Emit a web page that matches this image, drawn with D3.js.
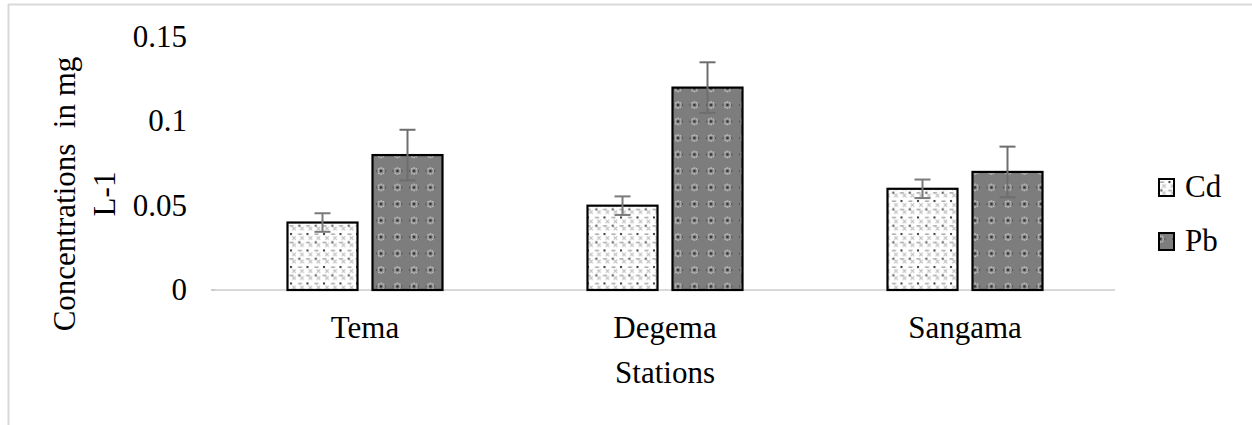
<!DOCTYPE html>
<html><head><meta charset="utf-8">
<script src="https://cdn.jsdelivr.net/npm/d3@7"></script>
<style>
html,body{margin:0;padding:0;background:#fff;}
svg{display:block;}
svg text{fill:#000;white-space:pre;}
</style></head>
<body>
<svg id="chart" width="1252" height="425"></svg>
<script>
const stations = ["Tema", "Degema", "Sangama"];
const seriesNames = ["Cd", "Pb"];
const cdValues = [0.04, 0.05, 0.06];
const pbValues = [0.08, 0.12, 0.07];
const cdErrors = [0.0055, 0.0055, 0.0055];
const pbErrors = [0.015, 0.015, 0.015];
const yTicks = [0, 0.05, 0.1, 0.15];
const yTickLabels = ["0", "0.05", "0.1", "0.15"];
const yTitleLines = ["Concentrations  in mg", "L-1"];
const xTitle = "Stations";

// pick an installed serif font
const cv = document.createElement("canvas").getContext("2d");
const probe = "Concentrations in mg Tema Degema 0.15";
function w(f){ cv.font = "30px " + f; return cv.measureText(probe).width; }
const wMono = w("monospace"), wSans = w("sans-serif");
const cands = ["Liberation Serif","Times New Roman","Tinos","Nimbus Roman","DejaVu Serif","Noto Serif","FreeSerif"];
let chosen = null;
for (const c of cands){ const ww = w(`"${c}", monospace`); if (Math.abs(ww-wMono)>0.5){ chosen=c; break; } }
const FONT = chosen ? `"${chosen}", serif` : "serif";

const svg = d3.select("#chart");
const defs = svg.append("defs");

const pc = defs.append("pattern").attr("id","patCd").attr("patternUnits","userSpaceOnUse")
  .attr("width",16.5).attr("height",16.5).attr("x",289).attr("y",0);
pc.append("rect").attr("width",16.5).attr("height",16.5).attr("fill","#fff");
pc.append("rect").attr("x",1).attr("y",2).attr("width",2).attr("height",2).attr("fill","#333");
pc.append("rect").attr("x",9).attr("y",2.5).attr("width",4).attr("height",1.3).attr("fill","#999");
pc.append("rect").attr("x",9.3).attr("y",10.3).attr("width",2).attr("height",2).attr("fill","#444");
pc.append("rect").attr("x",0.5).attr("y",10.8).attr("width",4).attr("height",1.3).attr("fill","#999");
[[5,7],[5,14],[13,7],[13,14]].forEach(p=>{
  pc.append("path").attr("d",`M${p[0]-1.8},${p[1]-1.8}l3.6,3.6M${p[0]+1.8},${p[1]-1.8}l-3.6,3.6`)
    .attr("stroke","#bbb").attr("stroke-width",1);
});

const pp = defs.append("pattern").attr("id","patPb").attr("patternUnits","userSpaceOnUse")
  .attr("width",16.5).attr("height",16.5).attr("x",375).attr("y",0);
pp.append("rect").attr("width",16.5).attr("height",16.5).attr("fill","#7d7d7d");
const cx=6, cy=6;
[[-3,0],[3,0],[0,-3],[0,3],[-2.2,-2.2],[2.2,2.2],[-2.2,2.2],[2.2,-2.2]].forEach(d=>{
  pp.append("rect").attr("x",cx+d[0]-0.7).attr("y",cy+d[1]-0.7).attr("width",1.4).attr("height",1.4).attr("fill","#ddd");
});
pp.append("rect").attr("x",cx-1).attr("y",cy-1).attr("width",2).attr("height",2).attr("fill","#222");
pp.append("rect").attr("x",cx-4.8).attr("y",cy-0.6).attr("width",1.2).attr("height",1.2).attr("fill","#222");
pp.append("rect").attr("x",cx+3.6).attr("y",cy-0.6).attr("width",1.2).attr("height",1.2).attr("fill","#222");

svg.append("line").attr("x1",8).attr("x2",1252).attr("y1",4.5).attr("y2",4.5).attr("stroke","#d9d9d9").attr("stroke-width",2);
svg.append("line").attr("x1",8.5).attr("x2",8.5).attr("y1",4).attr("y2",425).attr("stroke","#d9d9d9").attr("stroke-width",2);

const x0 = d3.scaleBand().domain(stations).range([215,1115]).paddingInner(0).paddingOuter(0);
const y = d3.scaleLinear().domain([0,0.15]).range([290,37]);

const barW = 70, gap = 15;
const fills = {Cd:"url(#patCd)", Pb:"url(#patPb)"};
const data = [];
stations.forEach((s,i)=>{
  data.push({st:s, ser:"Cd", v:cdValues[i], e:cdErrors[i], off:-(barW+gap/2)});
  data.push({st:s, ser:"Pb", v:pbValues[i], e:pbErrors[i], off:gap/2});
});
const xc = d => x0(d.st) + x0.bandwidth()/2;

svg.append("line").attr("x1",x0.range()[0]).attr("x2",x0.range()[1]).attr("y1",y(0)).attr("y2",y(0))
  .attr("stroke","#d9d9d9").attr("stroke-width",2);

svg.selectAll("rect.bar").data(data).enter().append("rect").attr("class","bar")
  .attr("x", d=>xc(d)+d.off).attr("width",barW)
  .attr("y", d=>y(d.v)).attr("height", d=>y(0)-y(d.v))
  .attr("fill", d=>fills[d.ser]).attr("stroke","#000").attr("stroke-width",2.2);

const capW = 16;
const eb = svg.selectAll("g.err").data(data).enter().append("g")
  .attr("stroke", d=> d.ser==="Pb" ? "#6e6e6e" : "#7a7a7a").attr("stroke-width",2).attr("fill","none");
eb.append("line").attr("x1",d=>xc(d)+d.off+barW/2).attr("x2",d=>xc(d)+d.off+barW/2)
  .attr("y1",d=>y(d.v+d.e)).attr("y2",d=>y(d.v-d.e));
eb.append("line").attr("x1",d=>xc(d)+d.off+barW/2-capW/2).attr("x2",d=>xc(d)+d.off+barW/2+capW/2)
  .attr("y1",d=>y(d.v+d.e)).attr("y2",d=>y(d.v+d.e));
eb.append("line").attr("x1",d=>xc(d)+d.off+barW/2-capW/2).attr("x2",d=>xc(d)+d.off+barW/2+capW/2)
  .attr("y1",d=>y(d.v-d.e)).attr("y2",d=>y(d.v-d.e));

svg.selectAll("text.yt").data(yTicks).enter().append("text")
  .attr("font-family",FONT)
  .attr("x",187).attr("y",d=>y(d)+10).attr("text-anchor","end")
  .attr("font-size",31).text((d,i)=>yTickLabels[i]);

svg.append("line").attr("x1",211).attr("x2",215).attr("y1",y(0)).attr("y2",y(0)).attr("stroke","#bbb").attr("stroke-width",1.5);

svg.selectAll("text.xt").data(stations).enter().append("text")
  .attr("font-family",FONT)
  .attr("x",d=>x0(d)+x0.bandwidth()/2).attr("y",338).attr("text-anchor","middle")
  .attr("font-size",31).text(d=>d);

svg.append("text").attr("font-family",FONT).attr("x",665).attr("y",383).attr("text-anchor","middle").attr("font-size",31).text(xTitle);

const yt = svg.append("text").attr("font-family",FONT).attr("transform","translate(75,194) rotate(-90)")
  .attr("text-anchor","middle").attr("font-size",31);
yt.append("tspan").attr("x",0).attr("y",0).text(yTitleLines[0]);
yt.append("tspan").attr("x",0).attr("y",40).text(yTitleLines[1]);

const leg = svg.selectAll("g.leg").data(seriesNames).enter().append("g")
  .attr("transform",(d,i)=>`translate(1159,${179+i*54})`);
leg.append("rect").attr("width",15).attr("height",17).attr("fill",d=>fills[d]).attr("stroke","#000").attr("stroke-width",2);
leg.append("text").attr("font-family",FONT).attr("x",26).attr("y",18).attr("font-size",31).text(d=>d);
</script>
</body></html>
